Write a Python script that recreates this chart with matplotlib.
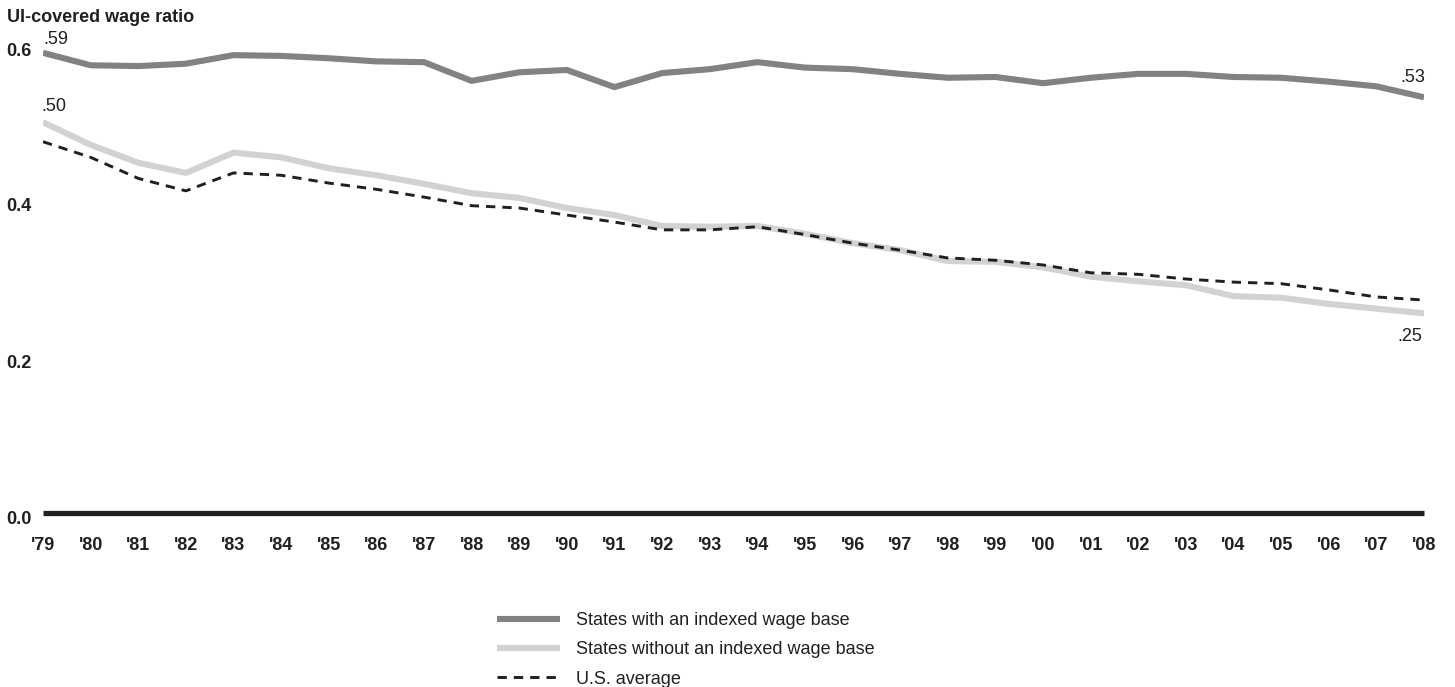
import matplotlib
matplotlib.use("Agg")
import matplotlib.pyplot as plt
import matplotlib.transforms as mtransforms

plt.rcParams['font.family'] = ['Liberation Sans', 'DejaVu Sans']

years = list(range(1979, 2009))
year_labels = ["'" + str(y)[2:] for y in years]

indexed = [0.590, 0.574, 0.573, 0.576, 0.587, 0.586, 0.583, 0.579, 0.578, 0.554,
           0.565, 0.568, 0.546, 0.564, 0.569, 0.578, 0.571, 0.569, 0.563, 0.558,
           0.559, 0.551, 0.558, 0.563, 0.563, 0.559, 0.558, 0.553, 0.547, 0.533]
not_indexed = [0.501, 0.472, 0.449, 0.436, 0.462, 0.456, 0.442, 0.433, 0.422, 0.410,
               0.404, 0.391, 0.382, 0.368, 0.367, 0.368, 0.358, 0.346, 0.337, 0.323,
               0.322, 0.315, 0.303, 0.297, 0.292, 0.278, 0.276, 0.268, 0.262, 0.256]
us_avg = [0.476, 0.456, 0.429, 0.413, 0.436, 0.433, 0.423, 0.415, 0.405, 0.394,
          0.391, 0.382, 0.373, 0.363, 0.363, 0.367, 0.357, 0.346, 0.337, 0.327,
          0.324, 0.318, 0.308, 0.306, 0.300, 0.296, 0.294, 0.286, 0.277, 0.273]

y_ticks = [0.0, 0.2, 0.4, 0.6]
y_tick_labels = ['0.0', '0.2', '0.4', '0.6']

W, H = 1455, 687
fig = plt.figure(figsize=(W / 100, H / 100), dpi=100)
# axes placed in pixel terms: x 43..1424, y zero at 513, 780 px per unit
ymax = 0.62
ax = fig.add_axes([43 / W, (H - 513) / H, (1424 - 43) / W, ymax * 780 / H])

dark = '#808285'
light = '#d1d2d4'
ink = '#231f20'

l1, = ax.plot(years, indexed, color=dark, lw=4.4, solid_capstyle='butt',
              label='States with an indexed wage base', zorder=3)
l2, = ax.plot(years, not_indexed, color=light, lw=4.4, solid_capstyle='butt',
              label='States without an indexed wage base', zorder=2)
l3, = ax.plot(years, us_avg, color=ink, lw=2.1, dashes=(3.2, 2.4),
              label='U.S. average', zorder=4)

ax.axhline(0, color=ink, lw=3.8, clip_on=False, solid_capstyle='butt', zorder=5)

ax.set_xlim(years[0], years[-1])
ax.set_ylim(0, ymax)
for s in ax.spines.values():
    s.set_visible(False)

ax.set_xticks(years)
ax.set_xticklabels(year_labels, fontsize=13, fontweight='bold', color=ink)
ax.set_yticks(y_ticks)
ax.set_yticklabels(y_tick_labels, fontsize=13, fontweight='bold', color=ink)
ax.tick_params(axis='both', length=0)
ax.tick_params(axis='x', pad=17)
ax.tick_params(axis='y', pad=8)
shift = mtransforms.ScaledTranslation(0, -4 / 100, fig.dpi_scale_trans)
for lab in ax.get_yticklabels():
    lab.set_transform(lab.get_transform() + shift)

fig.text(7 / W, 1 - 18 / H, 'UI-covered wage ratio', fontsize=13,
         fontweight='bold', va='center', ha='left', color=ink)

# end labels
ax.annotate('.59', (years[0], indexed[0]), xytext=(0, 9.5), textcoords='offset points',
            ha='left', va='center', fontsize=13, color=ink)
ax.annotate('.50', (years[0], not_indexed[0]), xytext=(-1, 11), textcoords='offset points',
            ha='left', va='center', fontsize=13, color=ink)
ax.annotate('.53', (years[-1], indexed[-1]), xytext=(1, 14.5), textcoords='offset points',
            ha='right', va='center', fontsize=13, color=ink)
ax.annotate('.25', (years[-1], not_indexed[-1]), xytext=(-1, -16.5), textcoords='offset points',
            ha='right', va='center', fontsize=13, color=ink)

leg = fig.legend(handles=[l1, l2, l3], loc='upper left',
                 bbox_to_anchor=(497 / W, 1 - 612 / H), frameon=False,
                 fontsize=13, handlelength=3.5, handletextpad=0.9,
                 labelspacing=0.68, borderpad=0, borderaxespad=0)
for t in leg.get_texts():
    t.set_color(ink)

fig.savefig('out.png', dpi=100)
